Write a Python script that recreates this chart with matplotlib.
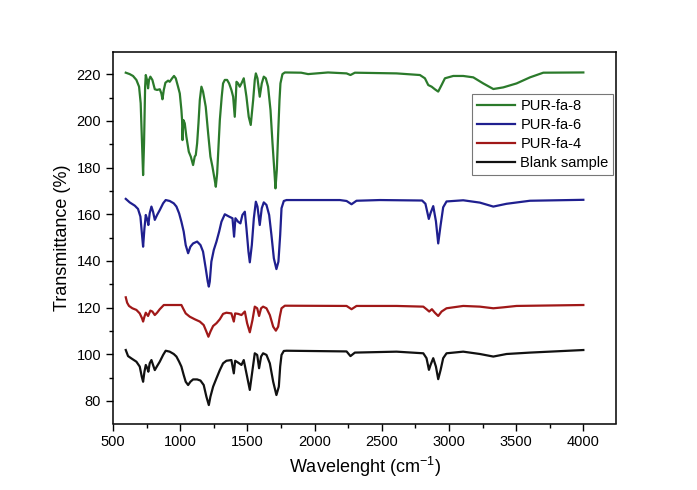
import matplotlib
matplotlib.use("Agg")
import matplotlib.pyplot as plt
from matplotlib.ticker import MultipleLocator

plt.rcParams['font.family'] = ['Liberation Sans', 'DejaVu Sans']
plt.rcParams['mathtext.default'] = 'regular'

# ---- data ----
green_x = [595, 624, 649, 674, 694, 706, 716, 724, 731, 739, 744, 753, 761, 768, 778, 793, 811, 828,
           848, 860, 868, 878, 890, 910, 922, 940, 954, 967, 984, 997, 1009, 1014, 1017, 1024, 1034,
           1046, 1064, 1079, 1096, 1108, 1116, 1126, 1136, 1146, 1158, 1170, 1190, 1208, 1225, 1240,
           1257, 1265, 1275, 1285, 1295, 1309, 1319, 1332, 1349, 1364, 1381, 1394, 1406, 1414, 1419,
           1431, 1443, 1456, 1473, 1493, 1510, 1525, 1543, 1555, 1563, 1575, 1592, 1607, 1622, 1637,
           1654, 1672, 1687, 1702, 1709, 1719, 1729, 1739, 1746, 1761, 1779, 1900, 1952, 2100, 2238,
           2267, 2300, 2610, 2784, 2821, 2846, 2871, 2895, 2920, 2945, 2970, 3032, 3106, 3181, 3255,
           3330, 3404, 3503, 3603, 3702, 4000]
green_y = [220.7, 220.1, 219.3, 217.6, 214.7, 207.6, 190.4, 176.8, 190.4, 214.7, 219.7, 217.6, 214.0,
           217.6, 219.0, 217.6, 213.6, 213.3, 213.6, 211.8, 209.3, 213.3, 216.4, 217.3, 216.8, 218.3,
           219.3, 218.3, 214.7, 211.8, 204.7, 200.4, 191.8, 200.4, 199.0, 193.3, 186.8, 184.7, 181.1,
           184.7, 185.4, 190.4, 199.0, 209.0, 214.7, 212.6, 206.1, 194.7, 184.7, 180.4, 174.7, 171.8,
           177.5, 189.0, 200.4, 210.4, 216.1, 217.6, 217.6, 216.1, 213.3, 210.4, 201.8, 210.4, 216.8,
           216.1, 214.7, 216.1, 218.3, 210.4, 201.8, 198.3, 209.0, 217.6, 220.4, 218.3, 210.4, 216.1,
           219.0, 218.3, 214.7, 204.7, 190.4, 177.5, 171.1, 179.0, 194.7, 209.0, 216.1, 220.1, 220.8,
           220.7, 220.1, 220.8, 220.4, 219.7, 220.7, 220.4, 219.7, 218.3, 215.4, 214.7, 213.6, 212.6,
           215.4, 218.3, 219.3, 219.3, 218.7, 216.1, 213.7, 214.4, 216.1, 218.7, 220.7, 220.8]

blue_x = [595, 624, 662, 686, 704, 716, 724, 734, 744, 756, 763, 773, 786, 798, 811, 828, 848, 873,
          892, 922, 952, 972, 992, 1009, 1026, 1041, 1059, 1076, 1096, 1126, 1151, 1170, 1190, 1205,
          1213, 1220, 1232, 1250, 1270, 1290, 1307, 1332, 1364, 1389, 1401, 1411, 1431, 1448, 1463,
          1481, 1493, 1508, 1518, 1533, 1548, 1563, 1575, 1592, 1607, 1622, 1642, 1662, 1679, 1697,
          1716, 1731, 1744, 1754, 1771, 1791, 2188, 2238, 2275, 2312, 2486, 2800, 2825, 2850, 2863,
          2883, 2903, 2920, 2937, 2957, 2982, 3106, 3230, 3330, 3429, 3603, 4000]
blue_y = [166.6, 165.1, 163.7, 162.3, 159.0, 151.1, 146.1, 154.0, 159.7, 157.6, 155.4, 160.4, 163.3,
          161.1, 157.6, 159.7, 161.8, 164.7, 166.1, 165.7, 164.7, 163.3, 160.4, 156.8, 152.6, 146.8,
          143.3, 146.1, 147.5, 148.3, 146.8, 144.0, 136.8, 131.1, 129.0, 131.1, 139.7, 144.7, 148.3,
          152.6, 156.8, 160.0, 159.0, 158.3, 150.4, 158.3, 156.8, 156.1, 159.7, 161.1, 154.0, 144.0,
          139.4, 146.8, 158.3, 165.4, 163.3, 155.4, 162.6, 165.1, 164.0, 159.7, 151.1, 141.1, 136.5,
          139.7, 151.1, 162.6, 165.7, 166.1, 166.1, 165.7, 164.3, 165.8, 166.1, 165.9, 164.5, 158.0,
          160.5, 163.5, 157.0, 147.5, 155.0, 163.0, 165.5, 166.0, 165.0, 163.3, 164.5, 165.8, 166.2]

red_x = [595, 605, 619, 644, 674, 699, 716, 724, 734, 744, 761, 778, 793, 811, 828, 848, 878, 1009,
         1021, 1041, 1071, 1108, 1146, 1175, 1195, 1210, 1225, 1245, 1270, 1295, 1319, 1344, 1381,
         1399, 1409, 1431, 1456, 1481, 1498, 1518, 1538, 1555, 1573, 1587, 1602, 1617, 1642, 1667,
         1692, 1712, 1729, 1741, 1754, 1779, 2238, 2275, 2312, 2610, 2809, 2833, 2853, 2873, 2895,
         2920, 2945, 2982, 3106, 3230, 3330, 3404, 3503, 4000]
red_y = [124.4, 122.1, 120.7, 119.7, 119.0, 117.5, 115.4, 114.0, 116.1, 117.8, 116.4, 118.7, 118.3,
         116.8, 117.8, 119.3, 121.1, 121.1, 119.7, 117.5, 116.1, 115.0, 114.0, 112.5, 109.7, 107.5,
         109.7, 112.1, 113.3, 115.0, 117.3, 117.8, 117.5, 114.0, 117.5, 117.3, 116.8, 118.3, 113.3,
         109.4, 114.7, 120.4, 119.7, 116.4, 119.7, 120.4, 119.7, 116.8, 111.8, 110.1, 111.8, 116.1,
         119.7, 120.8, 120.7, 119.3, 120.7, 120.7, 120.4, 119.3, 118.3, 119.3, 117.8, 116.4, 118.3,
         119.7, 120.7, 120.4, 119.7, 120.1, 120.7, 121.1]

black_x = [595, 612, 637, 674, 699, 714, 724, 734, 744, 756, 763, 773, 786, 798, 811, 828, 848, 873,
           892, 922, 952, 972, 992, 1009, 1026, 1041, 1059, 1076, 1096, 1126, 1151, 1175, 1195, 1213,
           1225, 1245, 1270, 1295, 1319, 1344, 1381, 1399, 1409, 1431, 1456, 1473, 1493, 1518, 1538,
           1555, 1573, 1587, 1602, 1617, 1642, 1667, 1692, 1716, 1734, 1744, 1754, 1771, 1791, 2238,
           2267, 2300, 2610, 2809, 2833, 2851, 2863, 2883, 2903, 2920, 2938, 2957, 2982, 3106, 3230,
           3330, 3429, 3603, 4000]
black_y = [101.8, 99.2, 98.2, 96.8, 94.7, 90.4, 88.2, 92.5, 95.4, 93.9, 92.5, 96.1, 97.5, 95.4, 93.2,
           94.9, 96.8, 99.7, 101.5, 101.1, 100.1, 99.0, 96.8, 94.7, 91.1, 88.2, 86.8, 88.2, 89.2, 89.2,
           88.7, 86.8, 81.8, 78.2, 81.8, 86.1, 89.7, 93.2, 96.1, 97.2, 97.5, 91.8, 97.2, 96.4, 95.4,
           97.5, 91.8, 84.7, 93.2, 100.4, 99.7, 94.0, 99.0, 100.4, 99.7, 96.1, 88.2, 82.5, 86.1, 94.7,
           99.7, 101.4, 101.5, 101.2, 99.2, 100.7, 101.1, 100.4, 98.3, 93.3, 95.4, 98.3, 94.7, 89.3,
           93.3, 98.3, 100.4, 101.1, 100.1, 99.0, 100.1, 100.7, 101.8]

labels = ["PUR-fa-8", "PUR-fa-6", "PUR-fa-4", "Blank sample"]
colors = ["#2b7a2b", "#1f1f8f", "#a01818", "#111111"]

fig = plt.figure(figsize=(6.97, 4.90), dpi=100)
ax = fig.add_axes([113 / 697, 1 - 423.5 / 490, (616 - 113) / 697, (423.5 - 51.7) / 490])

series = [(green_x, green_y), (blue_x, blue_y), (red_x, red_y), (black_x, black_y)]
for (xs, ys), lab, col in zip(series, labels, colors):
    ax.plot(xs, ys, color=col, lw=1.6, label=lab, solid_joinstyle='round')

ax.set_xlim(500, 4243)
ax.set_ylim(70.3, 229.7)
ax.xaxis.set_major_locator(MultipleLocator(500))
ax.xaxis.set_minor_locator(MultipleLocator(250))
ax.yaxis.set_major_locator(MultipleLocator(20))
ax.yaxis.set_minor_locator(MultipleLocator(10))
ax.tick_params(which='major', direction='out', length=5, width=1, labelsize=10.5)
ax.tick_params(which='minor', direction='out', length=3, width=1)
for s in ax.spines.values():
    s.set_linewidth(1.1)

ax.set_xlabel("Wavelenght (cm$^{-1}$)", fontsize=13)
ax.set_ylabel("Transmittance (%)", fontsize=13)

leg = ax.legend(loc='upper right', bbox_to_anchor=(0.994, 0.885), fontsize=10.5, frameon=True,
                fancybox=False, edgecolor='#555555', handlelength=2.6, labelspacing=0.35,
                borderpad=0.3, handletextpad=0.4, borderaxespad=0)
leg.get_frame().set_linewidth(0.8)

fig.savefig("out.png", dpi=100)
